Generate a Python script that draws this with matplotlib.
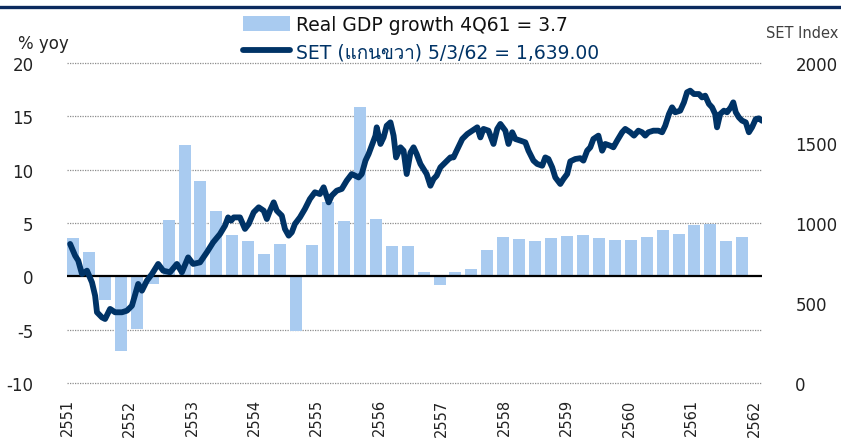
import matplotlib
matplotlib.use("Agg")
import matplotlib.pyplot as plt
from matplotlib import font_manager
from matplotlib.ft2font import FT2Font
from matplotlib.lines import Line2D
from matplotlib.patches import Patch

# real GDP growth, % yoy, quarterly 2Q51 .. 4Q61
gdp = [3.6, 2.3, -2.25, -7.0, -4.9, -0.7, 5.25, 12.35, 8.9, 6.1, 3.9,
       3.3, 2.1, 3.0, -5.15, 2.9, 7.0, 5.2, 15.9, 5.4, 2.8, 2.8,
       0.45, -0.85, 0.45, 0.7, 2.5, 3.7, 3.5, 3.3, 3.6, 3.8, 3.9,
       3.6, 3.4, 3.4, 3.7, 4.3, 4.0, 4.8, 4.9, 3.3, 3.7]

# SET index, dates as Buddhist year fractions
set_dates = [2551.05, 2551.13, 2551.18, 2551.24, 2551.32, 2551.40, 2551.45, 2551.48,
             2551.56, 2551.61, 2551.69, 2551.77, 2551.88, 2551.96, 2552.04, 2552.14,
             2552.20, 2552.28, 2552.36, 2552.46, 2552.54, 2552.65, 2552.76, 2552.84,
             2552.94, 2553.02, 2553.13, 2553.24, 2553.34, 2553.45, 2553.53, 2553.58,
             2553.63, 2553.67, 2553.77, 2553.85, 2553.91, 2553.99, 2554.07, 2554.15,
             2554.20, 2554.25, 2554.31, 2554.36, 2554.44, 2554.49, 2554.55, 2554.60,
             2554.65, 2554.73, 2554.81, 2554.89, 2554.97, 2555.05, 2555.11, 2555.19,
             2555.24, 2555.32, 2555.40, 2555.48, 2555.56, 2555.67, 2555.72, 2555.78,
             2555.83, 2555.88, 2555.94, 2555.96, 2556.02, 2556.07, 2556.12, 2556.18,
             2556.23, 2556.27, 2556.34, 2556.39, 2556.44, 2556.50, 2556.55, 2556.60,
             2556.66, 2556.71, 2556.76, 2556.82, 2556.87, 2556.92, 2556.98, 2557.06,
             2557.14, 2557.19, 2557.24, 2557.33, 2557.41, 2557.49, 2557.57, 2557.62,
             2557.67, 2557.75, 2557.83, 2557.89, 2557.94, 2558.02, 2558.07, 2558.13,
             2558.18, 2558.26, 2558.34, 2558.39, 2558.47, 2558.53, 2558.61, 2558.66,
             2558.71, 2558.77, 2558.82, 2558.90, 2558.95, 2559.01, 2559.06, 2559.14,
             2559.22, 2559.27, 2559.33, 2559.38, 2559.43, 2559.51, 2559.57, 2559.62,
             2559.70, 2559.75, 2559.81, 2559.89, 2559.94, 2560.02, 2560.08, 2560.15,
             2560.21, 2560.26, 2560.31, 2560.39, 2560.47, 2560.53, 2560.58, 2560.64,
             2560.69, 2560.74, 2560.82, 2560.88, 2560.93, 2560.98, 2561.04, 2561.12,
             2561.17, 2561.22, 2561.28, 2561.33, 2561.38, 2561.41, 2561.46, 2561.52,
             2561.57, 2561.63, 2561.67, 2561.71, 2561.76, 2561.81, 2561.87, 2561.92,
             2561.97, 2562.03, 2562.08, 2562.13]
set_index = [869, 796, 765, 681, 702, 629, 546, 442,
             410, 400, 463, 442, 442, 452, 483, 619,
             577, 640, 681, 744, 702, 692, 744, 692,
             785, 744, 754, 817, 879, 931, 983, 1035,
             1015, 1035, 1035, 963, 994, 1067, 1098, 1077,
             1025, 1077, 1129, 1077, 1046, 963, 921, 942,
             994, 1035, 1088, 1150, 1192, 1181, 1223, 1129,
             1171, 1202, 1213, 1265, 1306, 1285, 1306, 1390,
             1431, 1483, 1546, 1598, 1494, 1535, 1608, 1629,
             1546, 1410, 1473, 1452, 1306, 1440, 1473, 1431,
             1369, 1338, 1306, 1233, 1275, 1296, 1348, 1379,
             1410, 1410, 1452, 1525, 1556, 1577, 1598, 1535,
             1588, 1577, 1494, 1588, 1619, 1577, 1494, 1567,
             1525, 1515, 1504, 1452, 1390, 1369, 1358, 1410,
             1400, 1348, 1285, 1244, 1275, 1306, 1385, 1400,
             1405, 1390, 1452, 1473, 1525, 1546, 1452, 1494,
             1483, 1473, 1515, 1567, 1588, 1567, 1546, 1577,
             1567, 1546, 1567, 1577, 1577, 1567, 1608, 1681,
             1723, 1692, 1702, 1754, 1817, 1827, 1806, 1806,
             1785, 1796, 1744, 1723, 1681, 1598, 1681, 1702,
             1692, 1723, 1754, 1692, 1660, 1640, 1629, 1567,
             1598, 1650, 1654, 1639]

years = list(range(2551, 2563))
year_labels = [str(y) for y in years]

gdp_label = "Real GDP growth 4Q61 = 3.7"
set_label = "SET (แกนขวา) 5/3/62 = 1,639.00"

BAR_COLOR = "#A9CBF0"
LINE_COLOR = "#003366"


def find_thai_font():
    for f in font_manager.fontManager.ttflist:
        try:
            if 0x0E41 in FT2Font(f.fname).get_charmap():
                return f.name
        except Exception:
            pass
    return None


thai = find_thai_font()
fams = ["DejaVu Sans"] + ([thai] if thai else [])
plt.rcParams["font.family"] = fams
plt.rcParams["axes.unicode_minus"] = False

fig = plt.figure(figsize=(8.41, 4.39), dpi=100)
ax = fig.add_axes([67 / 841, 1 - 384 / 439, 695 / 841, 320 / 439])
ax2 = ax.twinx()

# bars sit on an evenly spaced quarter grid
bar_start, bar_step, bar_w = 2551.096, 0.2552, 0.192
bar_x = [bar_start + i * bar_step for i in range(len(gdp))]
ax.bar(bar_x, gdp, width=bar_w, color=BAR_COLOR, zorder=2)
ax.axhline(0, color="black", lw=1.6, zorder=3)

ax2.plot(set_dates, set_index, color=LINE_COLOR, lw=4.2,
         solid_joinstyle="round", solid_capstyle="round", zorder=4)

ax.set_xlim(2551.0, 2562.13)
ax.set_ylim(-10, 20)
ax2.set_ylim(0, 2000)
ax.set_yticks([-10, -5, 0, 5, 10, 15, 20])
ax2.set_yticks([0, 500, 1000, 1500, 2000])
ax.set_xticks(years)
ax.set_xticklabels(year_labels, rotation=90)

for y in [-10, -5, 5, 10, 15, 20]:
    ax.axhline(y, color="#8C8C8C", lw=0.9, ls=(0, (1, 1)), zorder=1, clip_on=False)

for a in (ax, ax2):
    for s in a.spines.values():
        s.set_visible(False)
ax.tick_params(axis="y", length=0, pad=24, labelsize=12, labelcolor="#222222")
ax.tick_params(axis="x", length=0, pad=11, labelsize=10.5, labelcolor="#222222")
ax2.tick_params(axis="y", length=0, pad=24, labelsize=12, labelcolor="#222222")
ax2.set_zorder(ax.get_zorder() + 1)
ax2.patch.set_visible(False)

fig.text(18 / 841, 1 - 44 / 439, "% yoy", fontsize=12, va="center", ha="left",
         color="#222222")
fig.text(838 / 841, 1 - 33 / 439, "SET Index", fontsize=10.5, va="center",
         ha="right", color="#404040")

# top rule
fig.add_artist(Line2D([0, 1], [1 - 8 / 439, 1 - 8 / 439], transform=fig.transFigure,
                      color="#0B2A5E", lw=2.4))

handles = [Patch(facecolor=BAR_COLOR, edgecolor="none"),
           Line2D([], [], color=LINE_COLOR, lw=4.2, solid_capstyle="round")]
leg = fig.legend(handles, [gdp_label, set_label], loc="upper left",
                 bbox_to_anchor=(243 / 841, 1 - 16 / 439), frameon=False,
                 fontsize=13.5, handlelength=2.5, handleheight=0.9,
                 handletextpad=0.35, labelspacing=0.45, borderpad=0,
                 borderaxespad=0)
leg.get_texts()[0].set_color("#111111")
leg.get_texts()[1].set_color(LINE_COLOR)

fig.savefig("out.png", dpi=100)
